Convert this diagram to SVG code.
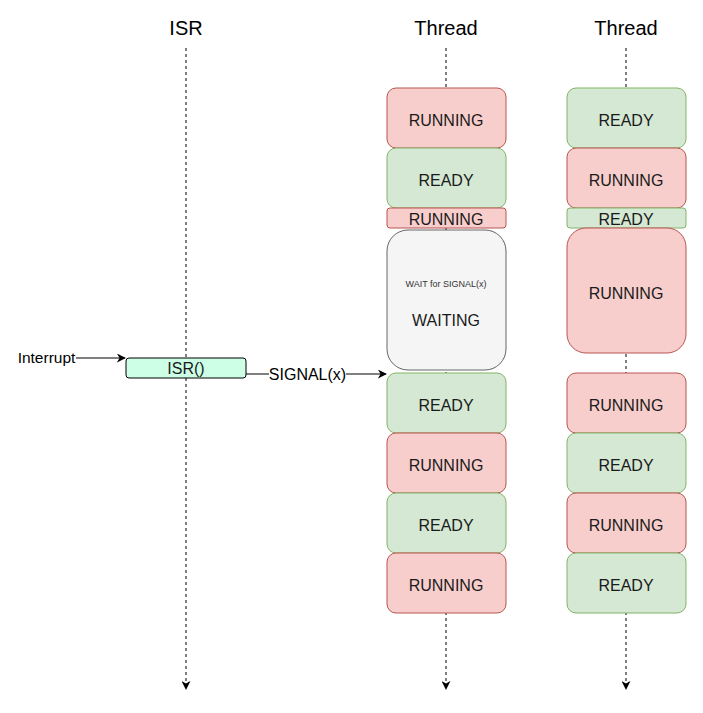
<svg xmlns="http://www.w3.org/2000/svg" width="703" height="713" viewBox="0 0 703 713">
<style>
text{font-family:"Liberation Sans",Arial,sans-serif;text-anchor:middle;dominant-baseline:central}
.t{font-size:20px;fill:#000}
.l{stroke:#000;stroke-width:1;stroke-dasharray:3 3;fill:none}
.r{fill:#f8cecc;stroke:#b85450}
.g{fill:#d5e8d4;stroke:#82b366}
.w{fill:#f5f5f5;stroke:#666666}
.s{font-size:16px;fill:#1a1a1a}
.a{stroke:#000;fill:none}
</style>
<defs>
<marker id="ah" viewBox="0 0 10 10" refX="9" refY="5" markerWidth="9" markerHeight="9" orient="auto" markerUnits="userSpaceOnUse"><path d="M0,0 L10,5 L0,10 L3,5 Z" fill="#000"/></marker>
</defs>
<g id="connectors">
<line class="l" x1="186" y1="48" x2="186" y2="689" marker-end="url(#ah)"/>
<line class="l" x1="446" y1="48" x2="446" y2="689" marker-end="url(#ah)"/>
<line class="l" x1="626" y1="48" x2="626" y2="689" marker-end="url(#ah)"/>
<line class="a" x1="76" y1="358" x2="125" y2="358" marker-end="url(#ah)"/>
<line class="a" x1="246" y1="374" x2="269" y2="374"/>
<line class="a" x1="346" y1="374" x2="386" y2="374" marker-end="url(#ah)"/>
</g>
<g id="titles">
<text class="t" x="186" y="28">ISR</text>
<text class="t" x="446" y="28">Thread</text>
<text class="t" x="626" y="28">Thread</text>
</g>
<g id="isr"><rect x="126" y="358" width="120" height="20" rx="3" fill="#ccffe6" stroke="#000"/><text class="s" x="186" y="368">ISR()</text></g>
<g id="interrupt"><text x="46.5" y="357" font-size="15.5">Interrupt</text></g>
<g id="signal"><text x="307.5" y="374" font-size="16">SIGNAL(x)</text></g>
<g id="t1">
<g id="t1a"><rect class="r" x="387" y="88" width="119" height="60" rx="9"/><text class="s" x="446" y="120">RUNNING</text></g>
<g id="t1b"><rect class="g" x="387" y="148" width="119" height="60" rx="9"/><text class="s" x="446" y="180">READY</text></g>
<g id="t1c"><rect class="r" x="387" y="208" width="119" height="20" rx="3"/><text class="s" x="446" y="219.5">RUNNING</text></g>
<g id="t1d"><rect class="w" x="387" y="230" width="119" height="140" rx="21"/><text x="446" y="283.5" font-size="9" fill="#333">WAIT for SIGNAL(x)</text><text class="s" x="446" y="320">WAITING</text></g>
<g id="t1e"><rect class="g" x="387" y="373" width="119" height="60" rx="9"/><text class="s" x="446" y="405">READY</text></g>
<g id="t1f"><rect class="r" x="387" y="433" width="119" height="60" rx="9"/><text class="s" x="446" y="465">RUNNING</text></g>
<g id="t1g"><rect class="g" x="387" y="493" width="119" height="60" rx="9"/><text class="s" x="446" y="525">READY</text></g>
<g id="t1h"><rect class="r" x="387" y="553" width="119" height="60" rx="9"/><text class="s" x="446" y="585">RUNNING</text></g>
</g>
<g id="t2">
<g id="t2a"><rect class="g" x="567" y="88" width="119" height="60" rx="9"/><text class="s" x="626" y="120">READY</text></g>
<g id="t2b"><rect class="r" x="567" y="148" width="119" height="60" rx="9"/><text class="s" x="626" y="180">RUNNING</text></g>
<g id="t2c"><rect class="g" x="567" y="208" width="119" height="20" rx="3"/><text class="s" x="626" y="219.5">READY</text></g>
<g id="t2d"><rect class="r" x="567" y="228" width="119" height="125" rx="19"/><text class="s" x="626" y="293">RUNNING</text></g>
<g id="t2e"><rect class="r" x="567" y="373" width="119" height="60" rx="9"/><text class="s" x="626" y="405">RUNNING</text></g>
<g id="t2f"><rect class="g" x="567" y="433" width="119" height="60" rx="9"/><text class="s" x="626" y="465">READY</text></g>
<g id="t2g"><rect class="r" x="567" y="493" width="119" height="60" rx="9"/><text class="s" x="626" y="525">RUNNING</text></g>
<g id="t2h"><rect class="g" x="567" y="553" width="119" height="60" rx="9"/><text class="s" x="626" y="585">READY</text></g>
</g>
</svg>
